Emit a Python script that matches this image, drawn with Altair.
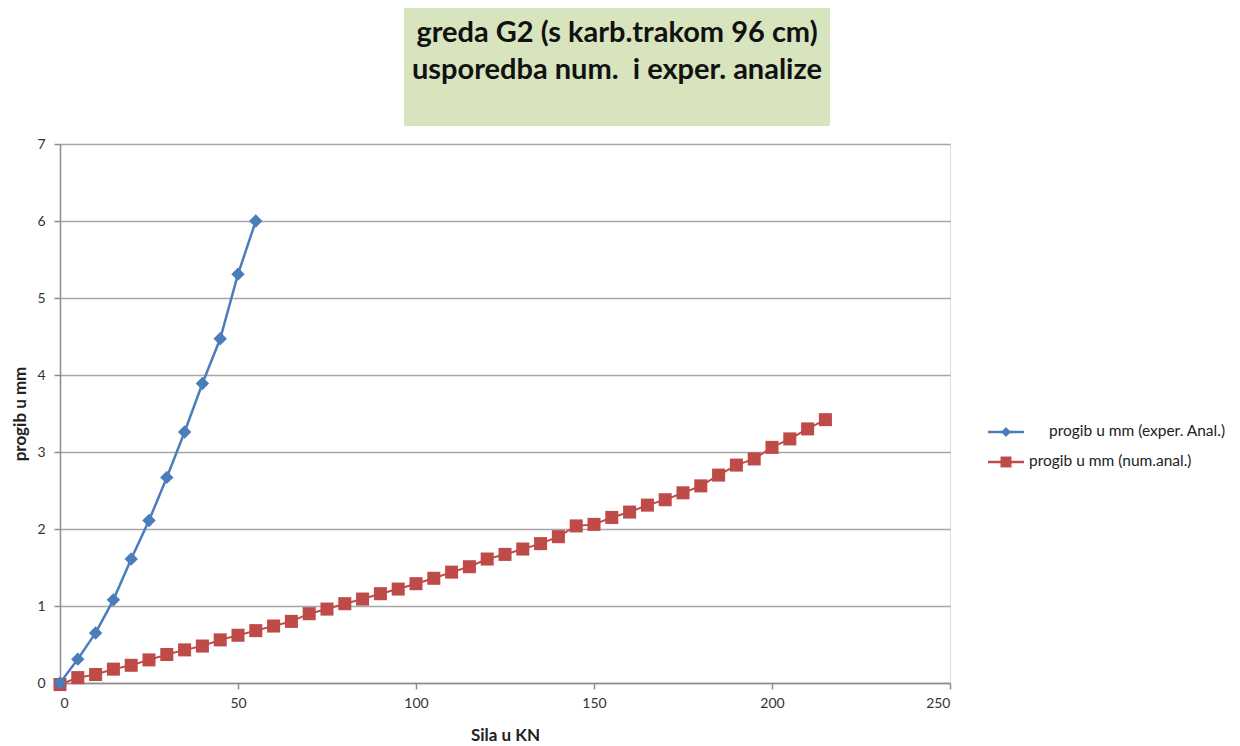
import altair as alt
import pandas as pd

# ---- data ----
force_exp = [0, 5, 10, 15, 20, 25, 30, 35, 40, 45, 50, 55]
prog_exp = [0.0, 0.31, 0.65, 1.08, 1.61, 2.11, 2.67, 3.26, 3.89, 4.47, 5.31, 6.0]

force_num = [0, 5, 10, 15, 20, 25, 30, 35, 40, 45, 50, 55, 60, 65, 70, 75, 80, 85,
             90, 95, 100, 105, 110, 115, 120, 125, 130, 135, 140, 145, 150, 155,
             160, 165, 170, 175, 180, 185, 190, 195, 200, 205, 210, 215]
prog_num = [-0.02, 0.07, 0.11, 0.18, 0.23, 0.30, 0.37, 0.43, 0.48, 0.56, 0.62, 0.68,
            0.74, 0.80, 0.90, 0.96, 1.03, 1.09, 1.16, 1.22, 1.29, 1.36, 1.44, 1.51,
            1.61, 1.67, 1.74, 1.81, 1.90, 2.04, 2.06, 2.15, 2.22, 2.31, 2.38, 2.47,
            2.56, 2.70, 2.83, 2.91, 3.06, 3.17, 3.30, 3.42]

title_lines = ["greda G2 (s karb.trakom 96 cm)", "usporedba num.\u00a0 i exper. analize"]
series_names = ["progib u mm (exper. Anal.)", "progib u mm (num.anal.)"]
x_title = "Sila u KN"
y_title = "progib u mm"
x_ticks = [0, 50, 100, 150, 200, 250]
y_ticks = [0, 1, 2, 3, 4, 5, 6, 7]

BLUE = "#4a7ebb"
RED = "#be4b48"
FONT = "Lato"

df_exp = pd.DataFrame({"x": force_exp, "y": prog_exp})
df_num = pd.DataFrame({"x": force_num, "y": prog_num})

W, H = 890, 539

xscale = alt.Scale(domain=[0, 250], nice=False)
yscale = alt.Scale(domain=[0, 7], nice=False)

xaxis = alt.Axis(values=x_ticks, grid=False, title=x_title, format="d",
                 labelFont=FONT, labelFontSize=14, labelColor="#333",
                 titleFont=FONT, titleFontSize=17, titleFontWeight="bold", titleColor="#222",
                 titleY=52, titleBaseline="middle",
                 domainColor="#8c8c8c", domainWidth=1.5,
                 tickColor="#8c8c8c", tickSize=6, tickWidth=1.5, labelPadding=7)
yaxis = alt.Axis(values=y_ticks, grid=True, gridColor="#a6a6a6", gridWidth=1.5,
                 title=y_title, format="d",
                 labelFont=FONT, labelFontSize=14, labelColor="#333",
                 titleFont=FONT, titleFontSize=17, titleFontWeight="bold", titleColor="#222",
                 titleX=-40, titleBaseline="middle",
                 domainColor="#8c8c8c", domainWidth=1.5,
                 tickColor="#8c8c8c", tickSize=6, tickWidth=1.5, labelPadding=9)

base_num = alt.Chart(df_num)
num_line = base_num.mark_line(color=RED, strokeWidth=2, clip=False).encode(
    x=alt.X("x:Q", scale=xscale, axis=xaxis),
    y=alt.Y("y:Q", scale=yscale, axis=yaxis),
)
num_pts = base_num.mark_point(shape="square", filled=True, color=RED, size=170,
                              opacity=1, clip=False).encode(
    x=alt.X("x:Q", scale=xscale), y=alt.Y("y:Q", scale=yscale))

base_exp = alt.Chart(df_exp)
exp_line = base_exp.mark_line(color=BLUE, strokeWidth=2.5, clip=False).encode(
    x=alt.X("x:Q", scale=xscale), y=alt.Y("y:Q", scale=yscale))
exp_pts = base_exp.mark_point(shape="diamond", filled=True, color=BLUE, size=180,
                              opacity=1, clip=False).encode(
    x=alt.X("x:Q", scale=xscale), y=alt.Y("y:Q", scale=yscale))

# ---- title box (decoration, pixel positions relative to plot origin) ----
one = alt.Chart(pd.DataFrame({"a": [0]}))
title_box = one.mark_rect(color="#d7e4bd").encode(
    x=alt.value(344), x2=alt.value(770), y=alt.value(-136), y2=alt.value(-18))
title1 = one.mark_text(text=title_lines[0], font=FONT, fontSize=29, fontWeight="bold",
                       color="#111", align="center", baseline="middle").encode(
    x=alt.value(557), y=alt.value(-111))
title2 = one.mark_text(text=title_lines[1], font=FONT, fontSize=29, fontWeight="bold",
                       color="#111", align="center", baseline="middle").encode(
    x=alt.value(557), y=alt.value(-74))

# ---- legend ----
leg_b_line = one.mark_rule(color=BLUE, strokeWidth=2.5).encode(
    x=alt.value(928), x2=alt.value(964), y=alt.value(288))
leg_b_pt = one.mark_point(shape="diamond", filled=True, color=BLUE, size=100, opacity=1).encode(
    x=alt.value(946), y=alt.value(288))
leg_b_txt = one.mark_text(text=series_names[0], font=FONT, fontSize=15.5, color="#222",
                          align="left", baseline="middle").encode(
    x=alt.value(989), y=alt.value(287))
leg_r_line = one.mark_rule(color=RED, strokeWidth=2.5).encode(
    x=alt.value(928), x2=alt.value(964), y=alt.value(318))
leg_r_pt = one.mark_point(shape="square", filled=True, color=RED, size=120, opacity=1).encode(
    x=alt.value(946), y=alt.value(318))
leg_r_txt = one.mark_text(text=series_names[1], font=FONT, fontSize=15.5, color="#222",
                          align="left", baseline="middle").encode(
    x=alt.value(969), y=alt.value(317))

chart = alt.layer(
    title_box, title1, title2,
    num_line, exp_line, num_pts, exp_pts,
    leg_b_line, leg_b_pt, leg_b_txt, leg_r_line, leg_r_pt, leg_r_txt,
).properties(
    width=W, height=H,
    autosize=alt.AutoSizeParams(type="none"),
    padding={"left": 52, "top": 136, "right": 278, "bottom": 62},
).configure_view(stroke=None).configure(background="white")

chart.save("out.html", embed_options={"renderer": "svg", "actions": False})
